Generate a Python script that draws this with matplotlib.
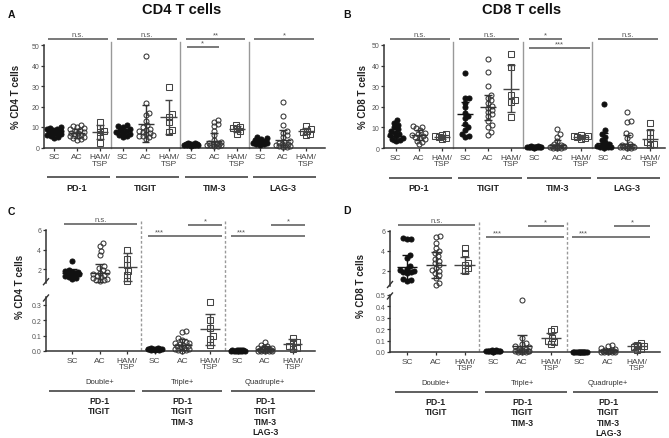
import numpy as np
import matplotlib
matplotlib.use('Agg')
import matplotlib.pyplot as plt
from matplotlib.transforms import Affine2D, blended_transform_factory

plt.rcParams['font.family'] = ['Liberation Sans', 'DejaVu Sans']

# ---------------- data ----------------
cohorts = ['SC', 'AC', 'HAM/\nTSP']
markers_single = ['PD-1', 'TIGIT', 'TIM-3', 'LAG-3']
combo_names = ['Double+', 'Triple+', 'Quadruple+']
combo_markers = ['PD-1\nTIGIT', 'PD-1\nTIGIT\nTIM-3', 'PD-1\nTIGIT\nTIM-3\nLAG-3']

# Panel A: CD4, single markers
A_PD1_SC = [10.0, 9.6, 9.2, 8.8, 8.4, 8.0, 7.6, 7.3, 7.0, 6.6, 6.2, 5.8, 5.3, 4.8]
A_PD1_AC = [11.0, 10.6, 10.2, 9.6, 9.0, 8.5, 8.0, 7.6, 7.2, 6.9, 6.5, 6.2, 5.8, 5.4, 5.0, 4.7, 4.3, 3.8]
A_PD1_HAM = [12.2, 9.6, 8.0, 7.6, 5.4, 2.4]
A_TIGIT_SC = [11.0, 10.4, 9.8, 9.2, 8.7, 8.2, 7.7, 7.2, 6.7, 6.2, 5.6, 5.2]
A_TIGIT_AC = [44.5, 21.5, 17.0, 16.0, 13.0, 11.0, 10.0, 9.0, 8.5, 8.0, 7.5, 7.0, 6.5, 6.0, 5.8, 5.4, 5.0, 4.0]
A_TIGIT_HAM = [29.5, 16.2, 14.8, 12.2, 8.5, 7.4]
A_TIM3_SC = [2.2, 2.0, 1.8, 1.7, 1.6, 1.5, 1.4, 1.3, 1.2, 1.1, 1.0, 0.9]
A_TIM3_AC = [13.5, 12.5, 11.5, 10.5, 8.0, 6.0, 3.5, 2.8, 2.4, 2.1, 1.9, 1.7, 1.5, 1.3, 1.1, 1.0, 0.8, 0.5]
A_TIM3_HAM = [11.0, 10.2, 9.5, 9.0, 8.0, 6.5]
A_LAG3_SC = [5.2, 4.6, 4.1, 3.6, 3.3, 3.0, 2.7, 2.4, 2.1, 1.8, 1.5, 1.1]
A_LAG3_AC = [22.0, 15.5, 11.0, 8.0, 7.2, 6.0, 5.0, 3.2, 2.6, 2.2, 1.8, 1.5, 1.2, 1.0, 0.8, 0.6, 0.4, 0.3]
A_LAG3_HAM = [10.5, 9.0, 8.2, 7.5, 6.5, 6.0]
A_center = [7.6, 7.0, 7.6, 8.0, 11.5, 14.8, 1.4, 3.0, 9.0, 3.0, 3.5, 8.0]
A_sd = [1.5, 2.2, 3.5, 1.8, 9.0, 8.2, 0.4, 4.0, 1.6, 1.2, 5.0, 1.6]

# Panel B: CD8, single markers
B_PD1_SC = [13.8, 12.2, 11.0, 10.0, 9.0, 8.2, 7.5, 6.8, 6.2, 5.6, 5.0, 4.5, 4.0, 3.6]
B_PD1_AC = [10.8, 10.2, 9.5, 8.5, 7.5, 6.8, 6.2, 5.8, 5.4, 5.0, 4.4, 3.6, 2.8, 1.8]
B_PD1_HAM = [7.0, 6.5, 6.0, 5.5, 5.0, 4.2]
B_TIGIT_SC = [36.5, 24.5, 24.2, 22.0, 20.0, 17.0, 15.5, 14.5, 11.5, 10.0, 8.5, 7.0, 6.0, 5.5]
B_TIGIT_AC = [43.0, 37.0, 30.0, 25.5, 24.5, 23.5, 22.0, 20.5, 19.5, 18.5, 17.5, 16.5, 15.5, 13.0, 11.0, 10.0, 8.0, 6.5]
B_TIGIT_HAM = [45.5, 39.5, 25.5, 23.5, 22.5, 15.0]
B_TIM3_SC = [0.9, 0.8, 0.7, 0.65, 0.6, 0.55, 0.5, 0.45, 0.4, 0.35, 0.3, 0.25, 0.2]
B_TIM3_AC = [9.0, 7.0, 5.5, 3.5, 2.0, 1.5, 1.2, 1.0, 0.8, 0.6, 0.5, 0.4, 0.3, 0.2, 0.15, 0.1]
B_TIM3_HAM = [6.5, 6.0, 5.6, 5.2, 4.8, 4.2]
B_LAG3_SC = [21.5, 8.5, 7.0, 5.5, 4.0, 3.0, 2.0, 1.5, 1.0, 0.8, 0.6, 0.4, 0.3, 0.2]
B_LAG3_AC = [17.5, 13.0, 12.5, 7.5, 6.5, 5.0, 2.0, 1.5, 1.2, 1.0, 0.8, 0.6, 0.5, 0.4, 0.3, 0.2, 0.1]
B_LAG3_HAM = [12.0, 8.0, 5.0, 3.0, 2.0, 1.5]
B_center = [6.0, 6.2, 5.5, 16.7, 19.8, 28.8, 0.5, 1.5, 5.3, 2.5, 2.0, 4.5]
B_sd = [3.0, 2.5, 1.0, 5.7, 6.0, 11.5, 0.2, 2.5, 0.9, 5.0, 4.5, 4.0]

# Panel C: CD4, co-expression
C_D_SC = [2.8, 1.9, 1.8, 1.7, 1.65, 1.6, 1.55, 1.5, 1.45, 1.4, 1.3, 1.2, 1.1, 1.0]
C_D_AC = [4.7, 4.4, 3.8, 3.4, 2.3, 2.1, 1.9, 1.7, 1.6, 1.5, 1.4, 1.3, 1.2, 1.1, 1.0, 0.9, 0.85, 0.8]
C_D_HAM = [4.0, 3.0, 2.4, 1.8, 1.4, 0.8]
C_T_SC = [0.02, 0.018, 0.016, 0.015, 0.014, 0.013, 0.012, 0.011, 0.010, 0.009, 0.008, 0.007]
C_T_AC = [0.13, 0.12, 0.085, 0.07, 0.06, 0.055, 0.05, 0.045, 0.04, 0.035, 0.03, 0.025, 0.02, 0.015, 0.01, 0.008, 0.005, 0.003]
C_T_HAM = [0.32, 0.2, 0.15, 0.1, 0.08, 0.04]
C_Q_SC = [0.005, 0.0045, 0.004, 0.004, 0.0035, 0.003, 0.003, 0.0025, 0.002, 0.002, 0.0015, 0.001]
C_Q_AC = [0.06, 0.04, 0.03, 0.025, 0.02, 0.018, 0.015, 0.012, 0.01, 0.008, 0.006, 0.005, 0.004, 0.003, 0.002, 0.002, 0.001, 0.001]
C_Q_HAM = [0.085, 0.06, 0.05, 0.03, 0.02, 0.015]
C_center = [1.6, 1.6, 2.2, 0.012, 0.04, 0.14, 0.003, 0.015, 0.045]
C_sd = [0.4, 0.9, 1.4, 0.004, 0.035, 0.10, 0.001, 0.015, 0.03]

# Panel D: CD8, co-expression
D_D_SC = [5.3, 5.25, 5.2, 3.6, 3.3, 2.5, 2.2, 2.1, 2.0, 1.95, 1.9, 1.8, 1.2, 1.1, 1.05]
D_D_AC = [5.5, 5.4, 4.8, 4.3, 4.0, 3.8, 3.5, 3.2, 3.0, 2.8, 2.6, 2.3, 2.1, 2.0, 1.8, 1.6, 1.3, 0.8, 0.6]
D_D_HAM = [4.3, 3.8, 2.8, 2.6, 2.3, 2.0]
D_T_SC = [0.015, 0.014, 0.013, 0.012, 0.011, 0.01, 0.009, 0.008, 0.007, 0.006, 0.005, 0.004]
D_T_AC = [0.46, 0.12, 0.08, 0.07, 0.05, 0.04, 0.03, 0.025, 0.02, 0.015, 0.012, 0.01, 0.008, 0.006, 0.005, 0.004, 0.003, 0.002]
D_T_HAM = [0.2, 0.18, 0.12, 0.1, 0.09, 0.07]
D_Q_SC = [0.004, 0.0035, 0.003, 0.003, 0.0025, 0.002, 0.002, 0.0015, 0.0015, 0.001, 0.001, 0.0005]
D_Q_AC = [0.06, 0.05, 0.035, 0.03, 0.02, 0.015, 0.012, 0.01, 0.008, 0.006, 0.005, 0.004, 0.003, 0.002, 0.002, 0.001]
D_Q_HAM = [0.08, 0.06, 0.05, 0.04, 0.03, 0.02]
D_center = [2.4, 2.6, 2.6, 0.01, 0.05, 0.12, 0.002, 0.015, 0.05]
D_sd = [1.2, 1.3, 0.8, 0.004, 0.10, 0.05, 0.001, 0.015, 0.025]

# ---------------- figure helpers ----------------
W, H = 669, 439
fig = plt.figure(figsize=(W / 100, H / 100), dpi=100)
PIX = Affine2D().scale(1.0 / W, -1.0 / H).translate(0, 1) + fig.transFigure

SPINE = '#333333'
STY = [dict(marker='o', mfc='#111111', mec='#111111', ms=3.6),
       dict(marker='o', mfc='none', mec='#333333', ms=3.6),
       dict(marker='s', mfc='none', mec='#444444', ms=3.8)]
MEANC = ['#111111', '#333333', '#444444']


def add_ax(x0, y0, x1, y1):
    a = fig.add_axes([x0 / W, 1 - y1 / H, (x1 - x0) / W, (y1 - y0) / H])
    a.patch.set_alpha(0)
    for s in ['top', 'right']:
        a.spines[s].set_visible(False)
    for s in ['left', 'bottom']:
        a.spines[s].set_color(SPINE)
        a.spines[s].set_linewidth(1.1)
    a.tick_params(axis='y', length=2.5, width=0.9, color=SPINE, labelsize=5,
                  labelcolor='#555555', pad=1)
    a.tick_params(axis='x', length=2.5, width=0.9, color=SPINE, labelsize=6,
                  labelcolor='#444444', pad=1.5)
    return a


def beeswarm(ypx, d=4.0, maxw=7.0):
    n = len(ypx)
    order = np.argsort(ypx)
    steps = np.arange(0.5, maxw + 0.01, 0.5)
    cand = np.concatenate([[0.0], np.ravel(np.column_stack([steps, -steps]))])
    px, py = [], []
    off = np.zeros(n)
    for i in order:
        y = ypx[i]
        if px:
            ax_ = np.array(px)
            ay_ = np.array(py)
            dist = np.sqrt((cand[:, None] - ax_[None, :]) ** 2 + (y - ay_[None, :]) ** 2).min(axis=1)
            ok = np.nonzero(dist >= d)[0]
            c = cand[ok[0]] if len(ok) else cand[np.argmax(dist)]
        else:
            c = 0.0
        off[i] = c
        px.append(c)
        py.append(y)
    return off


def draw_group(axes, x, vals, kind, center, sd):
    """axes: list of (ax, lo, hi) segments; points go to the segment containing them."""
    vals = np.asarray(vals, float)
    ref = axes[-1][0]
    sp = ref.transData.transform((1, 0))[0] - ref.transData.transform((0, 0))[0]
    seg = []
    ypx = np.zeros(len(vals))
    for k, v in enumerate(vals):
        for j, (a, lo, hi) in enumerate(axes):
            if lo <= v <= hi:
                seg.append(j)
                ypx[k] = a.transData.transform((x, v))[1]
                break
        else:
            seg.append(-1)
            ypx[k] = np.nan
    good = ~np.isnan(ypx)
    off = np.zeros(len(vals))
    off[good] = beeswarm(ypx[good])
    for j, (a, lo, hi) in enumerate(axes):
        m = np.array([s == j for s in seg])
        if m.any():
            a.plot(x + off[m] / sp, vals[m], ls='none', mew=0.75, clip_on=False,
                   zorder=3, **STY[kind])
        c = MEANC[kind]
        kw = dict(color=c, lw=1.0, zorder=4, solid_capstyle='butt')
        a.plot([x - 0.35, x + 0.35], [center, center], **kw)
        a.plot([x, x], [max(center - sd, 0), center + sd], **kw)
        a.plot([x - 0.17, x + 0.17], [center + sd, center + sd], **kw)
        if center - sd > 0:
            a.plot([x - 0.17, x + 0.17], [center - sd, center - sd], **kw)


def sig(ax, x0, x1, ypx, text, tx=None, dy=0.5):
    tr = blended_transform_factory(ax.transData, PIX)
    ax.plot([x0, x1], [ypx, ypx], color='#555555', lw=1.1, transform=tr, clip_on=False,
            solid_capstyle='butt')
    if tx is None:
        tx = (x0 + x1) / 2
    ax.text(tx, ypx - dy, text, transform=tr, ha='center', va='bottom', fontsize=5.5,
            color='#555555')


def hline(ax, x0, x1, ypx, color='#444444', lw=1.2):
    tr = blended_transform_factory(ax.transData, PIX)
    ax.plot([x0, x1], [ypx, ypx], color=color, lw=lw, transform=tr, clip_on=False,
            solid_capstyle='butt')


def vline(ax, x, y0px, y1px, ls='-'):
    tr = blended_transform_factory(ax.transData, PIX)
    ax.plot([x, x], [y0px, y1px], color='#999999', lw=1.0, ls=ls, transform=tr,
            clip_on=False, dashes=(2.0, 1.5) if ls == '--' else (None, None))


def ftext(xp, yp, s, **kw):
    fig.text(xp / W, 1 - yp / H, s, **kw)


# ---------------- panels A and B ----------------
def single_panel(box, xzero, xspace, lists, center, sd, ylabel, letter, lxy, title, txy,
                 ylab_xy, sigs):
    x0, y0, x1, y1 = box
    ax = add_ax(x0, y0, x1, y1)
    ax.set_xlim((x0 - xzero) / xspace, (x1 - xzero) / xspace)
    ax.set_ylim(0, 50)
    ax.set_yticks([0, 10, 20, 30, 40, 50])
    ax.set_xticks(range(12))
    ax.set_xticklabels(cohorts * 4, linespacing=0.95)
    for i, vals in enumerate(lists):
        draw_group([(ax, 0, 50)], i, vals, i % 3, center[i], sd[i])
    for s in [2.5, 5.5, 8.5]:
        vline(ax, s, y0 - 3, y1)
    for g, name in enumerate(markers_single):
        i0 = 3 * g
        hline(ax, i0 - 0.3, i0 + 2.45, y1 + 29.5)
        ax.text(i0 + 1, y1 + 40, name, transform=blended_transform_factory(ax.transData, PIX),
                ha='center', va='center', fontsize=6.5, fontweight='bold', color='#222222')
    for (a, b, yp, t) in sigs:
        sig(ax, a, b, yp, t)
    ftext(*ylab_xy, ylabel, rotation=90, ha='center', va='center', fontsize=7,
          fontweight='bold', color='#222222')
    ftext(*lxy, letter, ha='left', va='center', fontsize=7.5, fontweight='bold', color='#111111')
    ftext(*txy, title, ha='center', va='center', fontsize=10.5, fontweight='bold', color='#111111')
    return ax


A_lists = [A_PD1_SC, A_PD1_AC, A_PD1_HAM, A_TIGIT_SC, A_TIGIT_AC, A_TIGIT_HAM,
           A_TIM3_SC, A_TIM3_AC, A_TIM3_HAM, A_LAG3_SC, A_LAG3_AC, A_LAG3_HAM]
B_lists = [B_PD1_SC, B_PD1_AC, B_PD1_HAM, B_TIGIT_SC, B_TIGIT_AC, B_TIGIT_HAM,
           B_TIM3_SC, B_TIM3_AC, B_TIM3_HAM, B_LAG3_SC, B_LAG3_AC, B_LAG3_HAM]

single_panel((44, 46, 325, 148.5), 54, 22.9, A_lists, A_center, A_sd, '% CD4 T cells',
             'A', (8, 15), 'CD4 T cells', (182, 10), (16, 97),
             [(-0.25, 2.35, 39.5, 'n.s.'), (2.75, 5.35, 39.5, 'n.s.'),
              (5.75, 8.35, 39.5, '**'), (5.8, 7.2, 48, '*'), (8.75, 11.35, 39.5, '*')])
single_panel((384, 46, 665, 149), 395.5, 23.14, B_lists, B_center, B_sd, '% CD8 T cells',
             'B', (343, 15), 'CD8 T cells', (522, 10), (363, 97),
             [(-0.25, 2.35, 39.5, 'n.s.'), (2.75, 5.35, 39.5, 'n.s.'),
              (5.75, 7.2, 39.5, '*'), (5.75, 8.4, 49, '***'), (8.75, 11.35, 39.5, 'n.s.')])


# ---------------- panels C and D ----------------
def combo_panel(x0, x1, xzero, xspace, up_box, up_lim, up_ticks, low_box, low_lim, low_ticks,
                low_labels, lists, center, sd, ylabel, ylab_xy, letter, lxy, spans):
    xl = ((x0 - xzero) / xspace, (x1 - xzero) / xspace)
    aup = add_ax(x0, up_box[0], x1, up_box[1])
    alow = add_ax(x0, low_box[0], x1, low_box[1])
    aup.set_xlim(*xl)
    alow.set_xlim(*xl)
    aup.set_ylim(*up_lim)
    alow.set_ylim(*low_lim)
    aup.spines['bottom'].set_visible(False)
    aup.tick_params(axis='x', bottom=False, labelbottom=False)
    aup.set_yticks(up_ticks)
    alow.set_yticks(low_ticks)
    alow.set_yticklabels(low_labels)
    alow.set_xticks(range(9))
    alow.set_xticklabels(cohorts * 3, linespacing=0.95)
    segs = [(aup, up_lim[0], up_lim[1]), (alow, low_lim[0], low_lim[1])]
    for i, vals in enumerate(lists):
        draw_group(segs, i, vals, i % 3, center[i], sd[i])
    for s in [2.5, 5.55]:
        vline(alow, s, up_box[0] - 9, low_box[1], ls='--')
    # axis break marks
    for yp in [up_box[1] - 1, low_box[0] + 1]:
        fig.add_artist(plt.Line2D([x0 - 2.5, x0 + 2.5], [yp + 3, yp - 3], transform=PIX,
                                  color=SPINE, lw=1.0))
    tr = blended_transform_factory(alow.transData, PIX)
    yb = low_box[1]
    for g in range(3):
        i0 = 3 * g
        alow.text(i0 + 1, yb + 31, combo_names[g], transform=tr, ha='center', va='center',
                  fontsize=5.5, color='#333333')
        hline(alow, spans[g][0], spans[g][1], yb + 40)
        alow.text(i0 + 1, yb + 45, combo_markers[g], transform=tr, ha='center', va='top',
                  fontsize=6.3, fontweight='bold', color='#222222', linespacing=1.2)
    ytop = up_box[0]
    sig(alow, -0.3, 2.35, ytop - 6, 'n.s.')
    for g in [1, 2]:
        i0 = 3 * g
        sig(alow, i0 - 0.25, i0 + 2.45, ytop + 6, '***', tx=i0 + 0.15)
        sig(alow, i0 + 1.2, i0 + 2.45, ytop - 5.5, '*')
    ftext(*ylab_xy, ylabel, rotation=90, ha='center', va='center', fontsize=7,
          fontweight='bold', color='#222222')
    ftext(*lxy, letter, ha='left', va='center', fontsize=7.5, fontweight='bold', color='#111111')


C_lists = [C_D_SC, C_D_AC, C_D_HAM, C_T_SC, C_T_AC, C_T_HAM, C_Q_SC, C_Q_AC, C_Q_HAM]
D_lists = [D_D_SC, D_D_AC, D_D_HAM, D_T_SC, D_T_AC, D_T_HAM, D_Q_SC, D_Q_AC, D_Q_HAM]

combo_panel(46, 315, 72, 27.6, (231, 283.7), (0.6, 6), [2, 4, 6], (298, 352), (0, 0.35),
            [0, 0.1, 0.2, 0.3], ['0.0', '0.1', '0.2', '0.3'], C_lists, C_center, C_sd,
            '% CD4 T cells', (20, 287), 'C', (8, 212),
            [(-0.85, 2.3), (2.55, 5.45), (5.75, 8.8)])
combo_panel(390, 660, 407, 28.75, (232, 286.5), (0.55, 6), [2, 4, 6], (296, 353), (0, 0.5),
            [0, 0.1, 0.2, 0.3, 0.4, 0.5], ['0.0', '0.1', '0.2', '0.3', '0.4', '0.5'],
            D_lists, D_center, D_sd, '% CD8 T cells', (361, 286), 'D', (343, 211),
            [(-0.42, 2.47), (2.7, 5.57), (5.77, 8.73)])

fig.savefig('out.png', dpi=100)
